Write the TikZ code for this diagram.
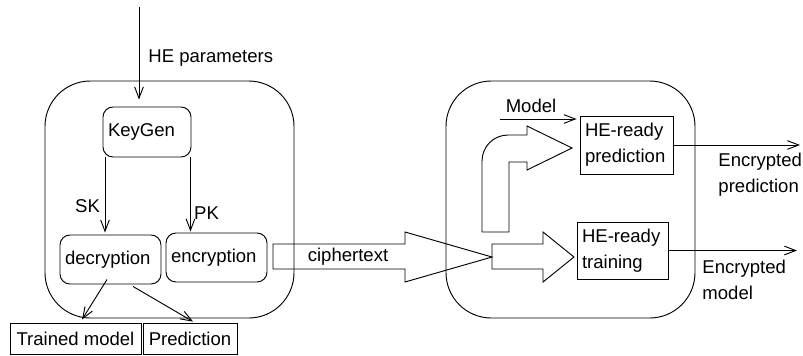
\documentclass[tikz,border=0pt]{standalone}
\usepackage{fontspec}
\setmainfont{Liberation Sans}
\usetikzlibrary{arrows.meta}

\begin{document}
\begin{tikzpicture}[x=0.75pt,y=-0.75pt,line width=0.7pt,
  every node/.style={font=\fontsize{13.9}{19.5}\selectfont},
  arr/.style={-{Straight Barb[length=8.5pt,width=6.5pt]}},
  keybox/.style={draw,rounded corners=7.5pt,align=left,inner xsep=3.75pt,inner ysep=0pt},
  opbox/.style={draw,align=left,inner xsep=3.75pt,inner ysep=0pt},
  outbox/.style={draw,inner sep=0pt},
  lbl/.style={inner sep=0pt,align=left}]

\useasboundingbox (0,0) rectangle (803,355);

% the two parties
\draw[rounded corners=34pt] (45,81) rectangle (294,318);
\draw[rounded corners=34pt] (446,81) rectangle (695,318);

% client side
\node (keygen) [keybox,text width=58.5pt,minimum height=37.5pt] at (147,132) {KeyGen};
\node (decrypt) [keybox,text width=68.25pt,minimum height=36.75pt] at (110.5,259.5) {decryption};
\node (encrypt) [keybox,text width=68.25pt,minimum height=36.75pt] at (216.5,257.5) {encryption};
\node (trained) [outbox,minimum width=98.25pt,minimum height=23.25pt] at (75.5,338.5) {Trained model};
\node (predout) [outbox,minimum width=70.5pt,minimum height=23.25pt] at (190,338.5) {Prediction};

% server side
\node (pred) [opbox,text width=62.25pt,minimum height=43.5pt] at (626.5,145) {HE-ready\\prediction};
\node (train) [opbox,text width=60.75pt,minimum height=42.75pt] at (622.5,250.5) {HE-ready\\training};

% labels
\node (hepar) [lbl,anchor=west] at (148,58) {HE parameters};
\node (sk) [lbl] at (87.5,206) {SK};
\node (pk) [lbl] at (206.5,213) {PK};
\node (model) [lbl] at (531,106) {Model};
\node (cipher) [lbl] at (348,257) {ciphertext};
\node (encpredlbl) [lbl,anchor=west] at (718,175) {Encrypted\\prediction};
\node (encmodlbl) [lbl,anchor=west] at (702,279.5) {Encrypted\\model};

\coordinate (hein) at (139,7);
\coordinate (skout) at ([xshift=-31.5pt]keygen.south);
\coordinate (pkout) at ([xshift=32.6pt]keygen.south);
\coordinate (modelin) at (500,119);
\coordinate (encpred) at (800,145);
\coordinate (encmod) at (797,250.5);

\draw[arr,shorten >=5.25pt] (hein) -- (hein |- keygen.north);
\draw[arr,shorten >=1.5pt] (skout) -- (skout |- decrypt.north);
\draw[arr,shorten >=0.75pt] (pkout) -- (pkout |- encrypt.north);
\draw[arr] ([xshift=-2.6pt,yshift=3.75pt]decrypt.south) -- ([xshift=4.9pt,yshift=2.25pt]trained.north);
\draw[arr] ([xshift=16.9pt,yshift=-1.5pt]decrypt.south) -- ([xshift=2.25pt,yshift=0.75pt]predout.north);
\draw[arr,shorten >=2.25pt] (modelin) -- (modelin -| pred.west);
\draw[arr] (pred.east) -- (encpred);
\draw[arr] (train.east) -- (encmod);

% block arrows
\draw (273,244) -- (405,244) -- (405,232) -- (492,257) -- (405,282) -- (405,269) -- (273,269) -- cycle;
\draw (482,232) -- (482,161) .. controls (482,146.6) and (493.6,135) .. (508,135) -- (527,135) -- (527,126)
  -- (572,148) -- (527,170) -- (527,162) -- (509,162) -- (509,232) -- cycle;
\draw (492,244) -- (543,244) -- (543,232) -- (574,257) -- (543,282) -- (543,269) -- (492,269) -- cycle;
\end{tikzpicture}
\end{document}
